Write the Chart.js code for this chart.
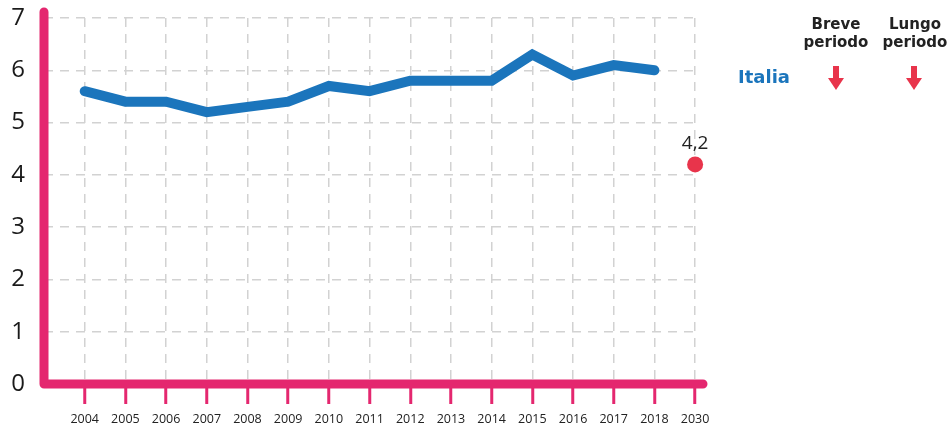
<!DOCTYPE html>
<html>
<head>
<meta charset="utf-8">
<script src="https://cdn.jsdelivr.net/npm/chart.js@4/dist/chart.umd.min.js"></script>
<style>
  html, body { margin: 0; padding: 0; background: #fff; }
  #wrap { width: 952px; height: 428px; position: relative; }
</style>
</head>
<body>
<div id="wrap"><canvas id="chart"></canvas></div>
<script>
// --------------------- DATA ------------------------
const years = ['2004', '2005', '2006', '2007', '2008', '2009', '2010', '2011',
               '2012', '2013', '2014', '2015', '2016', '2017', '2018', '2030'];
const italia = [5.6, 5.4, 5.4, 5.2, 5.3, 5.4, 5.7, 5.6, 5.8, 5.8, 5.8, 6.3, 5.9, 6.1, 6.0, null];
const target = [null, null, null, null, null, null, null, null, null, null, null, null, null, null, null, 4.2];
const targetLabel = '4,2';
const yTicks = [0, 1, 2, 3, 4, 5, 6, 7];

const PINK = '#e4276f';
const BLUE = '#1b75bc';
const RED = '#e8344b';
const GRID = '#d2d2d2';
const FONT = "'Open Sans', 'DejaVu Sans', sans-serif";
const BOLD = "'DejaVu Sans', sans-serif";

// --------------------- PLUGINS ------------------------
const axesPlugin = {
    id: 'pinkAxes',
    beforeDatasetsDraw(chart) {
        const ctx = chart.ctx;
        const a = chart.chartArea;
        ctx.save();
        ctx.strokeStyle = PINK;
        ctx.lineWidth = 9;
        ctx.lineCap = 'round';
        ctx.lineJoin = 'round';
        ctx.beginPath();
        ctx.moveTo(a.left, 12);
        ctx.lineTo(a.left, a.bottom);
        ctx.lineTo(a.right + 3, a.bottom);
        ctx.stroke();
        ctx.restore();
    }
};

const extrasPlugin = {
    id: 'extras',
    afterDatasetsDraw(chart) {
        const ctx = chart.ctx;
        ctx.save();

        // label over the 2030 point
        const pt = chart.getDatasetMeta(1).data[15];
        ctx.fillStyle = '#222';
        ctx.font = '19px ' + FONT;
        ctx.textAlign = 'center';
        ctx.textBaseline = 'alphabetic';
        ctx.fillText(targetLabel, pt.x, pt.y - 15);

        // right-hand legend
        ctx.font = 'bold 15px ' + BOLD;
        ctx.fillStyle = '#222';
        ctx.textBaseline = 'middle';
        ctx.fillText('Breve', 836, 25);
        ctx.fillText('periodo', 836, 43);
        ctx.fillText('Lungo', 915, 25);
        ctx.fillText('periodo', 915, 43);

        ctx.font = 'bold 18px ' + BOLD;
        ctx.fillStyle = BLUE;
        ctx.fillText('Italia', 764, 78);

        [836, 914].forEach(x => {
            ctx.fillStyle = RED;
            ctx.fillRect(x - 3, 66, 6, 13);
            ctx.beginPath();
            ctx.moveTo(x - 8, 78);
            ctx.lineTo(x + 8, 78);
            ctx.lineTo(x, 90);
            ctx.closePath();
            ctx.fill();
        });
        ctx.restore();
    }
};

// --------------------- CHART ------------------------
const ctx = document.getElementById('chart').getContext('2d');
let chart = new Chart(ctx, {
    type: 'line',
    data: {
        datasets: [{
            label: 'Italia',
            data: italia.map((v, i) => ({ x: i, y: v })),
            borderColor: BLUE,
            borderWidth: 10,
            borderCapStyle: 'round',
            borderJoinStyle: 'miter',
            pointRadius: 0,
            tension: 0,
            spanGaps: false
        }, {
            label: 'Target',
            data: target.map((v, i) => ({ x: i, y: v })),
            showLine: false,
            clip: false,
            pointRadius: 8,
            pointBackgroundColor: RED,
            pointBorderWidth: 0
        }]
    },
    options: {
        responsive: true,
        maintainAspectRatio: false,
        animation: false,
        layout: { padding: { top: 18, right: 252, left: 0, bottom: 0 } },
        plugins: { legend: { display: false }, tooltip: { enabled: false } },
        scales: {
            x: {
                type: 'linear',
                min: -1,
                max: 15.12,
                afterBuildTicks: s => { s.ticks = [-1].concat(years.map((_, i) => i)).map(v => ({ value: v })); },
                afterFit: s => { s.height = 44; s.paddingLeft = 0; s.paddingRight = 0; },
                border: { display: false, dash: [9, 7] },
                grid: {
                    color: c => c.tick && c.tick.value < 0 ? 'rgba(0,0,0,0)' : GRID,
                    lineWidth: 1.5,
                    drawTicks: true,
                    tickLength: 20,
                    tickWidth: 3,
                    tickColor: c => c.tick && c.tick.value < 0 ? 'rgba(0,0,0,0)' : PINK,
                    tickBorderDash: []
                },
                ticks: {
                    autoSkip: false,
                    maxRotation: 0,
                    padding: 8,
                    color: '#222',
                    font: { family: FONT, size: 12.5 },
                    callback: v => v >= 0 ? years[v] : ''
                }
            },
            y: {
                min: 0,
                max: 7,
                afterBuildTicks: s => { s.ticks = yTicks.map(v => ({ value: v })); },
                afterFit: s => { s.width = 44; s.paddingTop = 0; s.paddingBottom = 0; },
                border: { display: false, dash: [9, 7] },
                grid: {
                    color: GRID,
                    lineWidth: 1.5,
                    drawTicks: false
                },
                ticks: {
                    padding: 19,
                    color: '#1a1a1a',
                    font: { family: FONT, size: 24 }
                }
            }
        }
    },
    plugins: [axesPlugin, extrasPlugin]
});
</script>
</body>
</html>
